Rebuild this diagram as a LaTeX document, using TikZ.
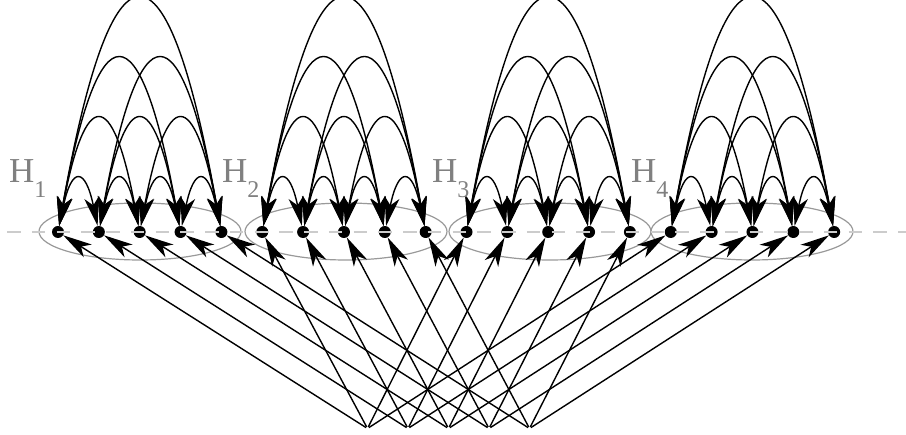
\documentclass[tikz,border=0pt]{standalone}
\usepackage{fontspec}
\setmainfont{Liberation Serif}
\usetikzlibrary{arrows.meta}
\begin{document}
\begin{tikzpicture}[x=1pt,y=-1pt,
  dot/.style={circle,fill=black,inner sep=0pt,minimum size=12pt},
  bpt/.style={circle,inner sep=0pt,minimum size=3pt},
  tip/.tip={Stealth[length=29pt,width=15pt,inset=8pt]},
  con/.style={line width=1.4pt,-tip},
  arcline/.style={line width=1.4pt,tip-tip},
  grp/.style={draw=black!40,line width=1.2pt},
  axis/.style={draw=black!20,line width=1.2pt,dash pattern=on 13.5pt off 11.25pt},
  lab/.style={text=black!50,font=\fontsize{35}{35}\selectfont,inner sep=0pt,anchor=base west}
]
\useasboundingbox (0,0) rectangle (906,435);
% group ellipses
\foreach \c in {140,346,550,752}{
  \draw[grp] (\c,231.5) ellipse [x radius=101pt, y radius=28.5pt];
}
% nodes
\foreach \i in {0,...,19}{
  \pgfmathsetmacro\xx{58+40.85*\i}
  \node[dot] (n\i) at (\xx,232) {};
}
% bottom points
\foreach \k in {0,...,4}{
  \pgfmathsetmacro\xx{367.5+40.5*\k}
  \node[bpt] (b\k) at (\xx,428.5) {};
}
% connectors from bottom points
\foreach \k in {0,...,4}{
  \foreach \g in {0,...,3}{
    \pgfmathtruncatemacro\t{5*\g+\k}
    \draw[con] (b\k) -- (n\t);
  }
}
% arcs within each group
\foreach \g in {0,...,3}{
  \foreach \a in {0,...,3}{
    \pgfmathtruncatemacro\aa{\a+1}
    \foreach \b in {\aa,...,4}{
      \pgfmathtruncatemacro\s{5*\g+\a}
      \pgfmathtruncatemacro\t{5*\g+\b}
      \pgfmathsetmacro\d{\b-\a}
      \pgfmathsetmacro\h{60*\d-11}
      \pgfmathsetmacro\cax{58+40.85*\s+40.85*\d/3}
      \pgfmathsetmacro\cbx{58+40.85*\t-40.85*\d/3}
      \pgfmathsetmacro\cy{232-4*\h/3}
      \draw[arcline] (n\s) .. controls (\cax,\cy) and (\cbx,\cy) .. (n\t);
    }
  }
}
% dashed axis
\draw[axis] (7,232) -- (906,232);
% labels
\node[lab] (h1) at (9,183) {H\raisebox{-15pt}{\fontsize{24}{24}\selectfont 1}};
\node[lab] (h2) at (222,183) {H\raisebox{-15pt}{\fontsize{24}{24}\selectfont 2}};
\node[lab] (h3) at (432,183) {H\raisebox{-15pt}{\fontsize{24}{24}\selectfont 3}};
\node[lab] (h4) at (631,183) {H\raisebox{-15pt}{\fontsize{24}{24}\selectfont 4}};
\end{tikzpicture}
\end{document}
